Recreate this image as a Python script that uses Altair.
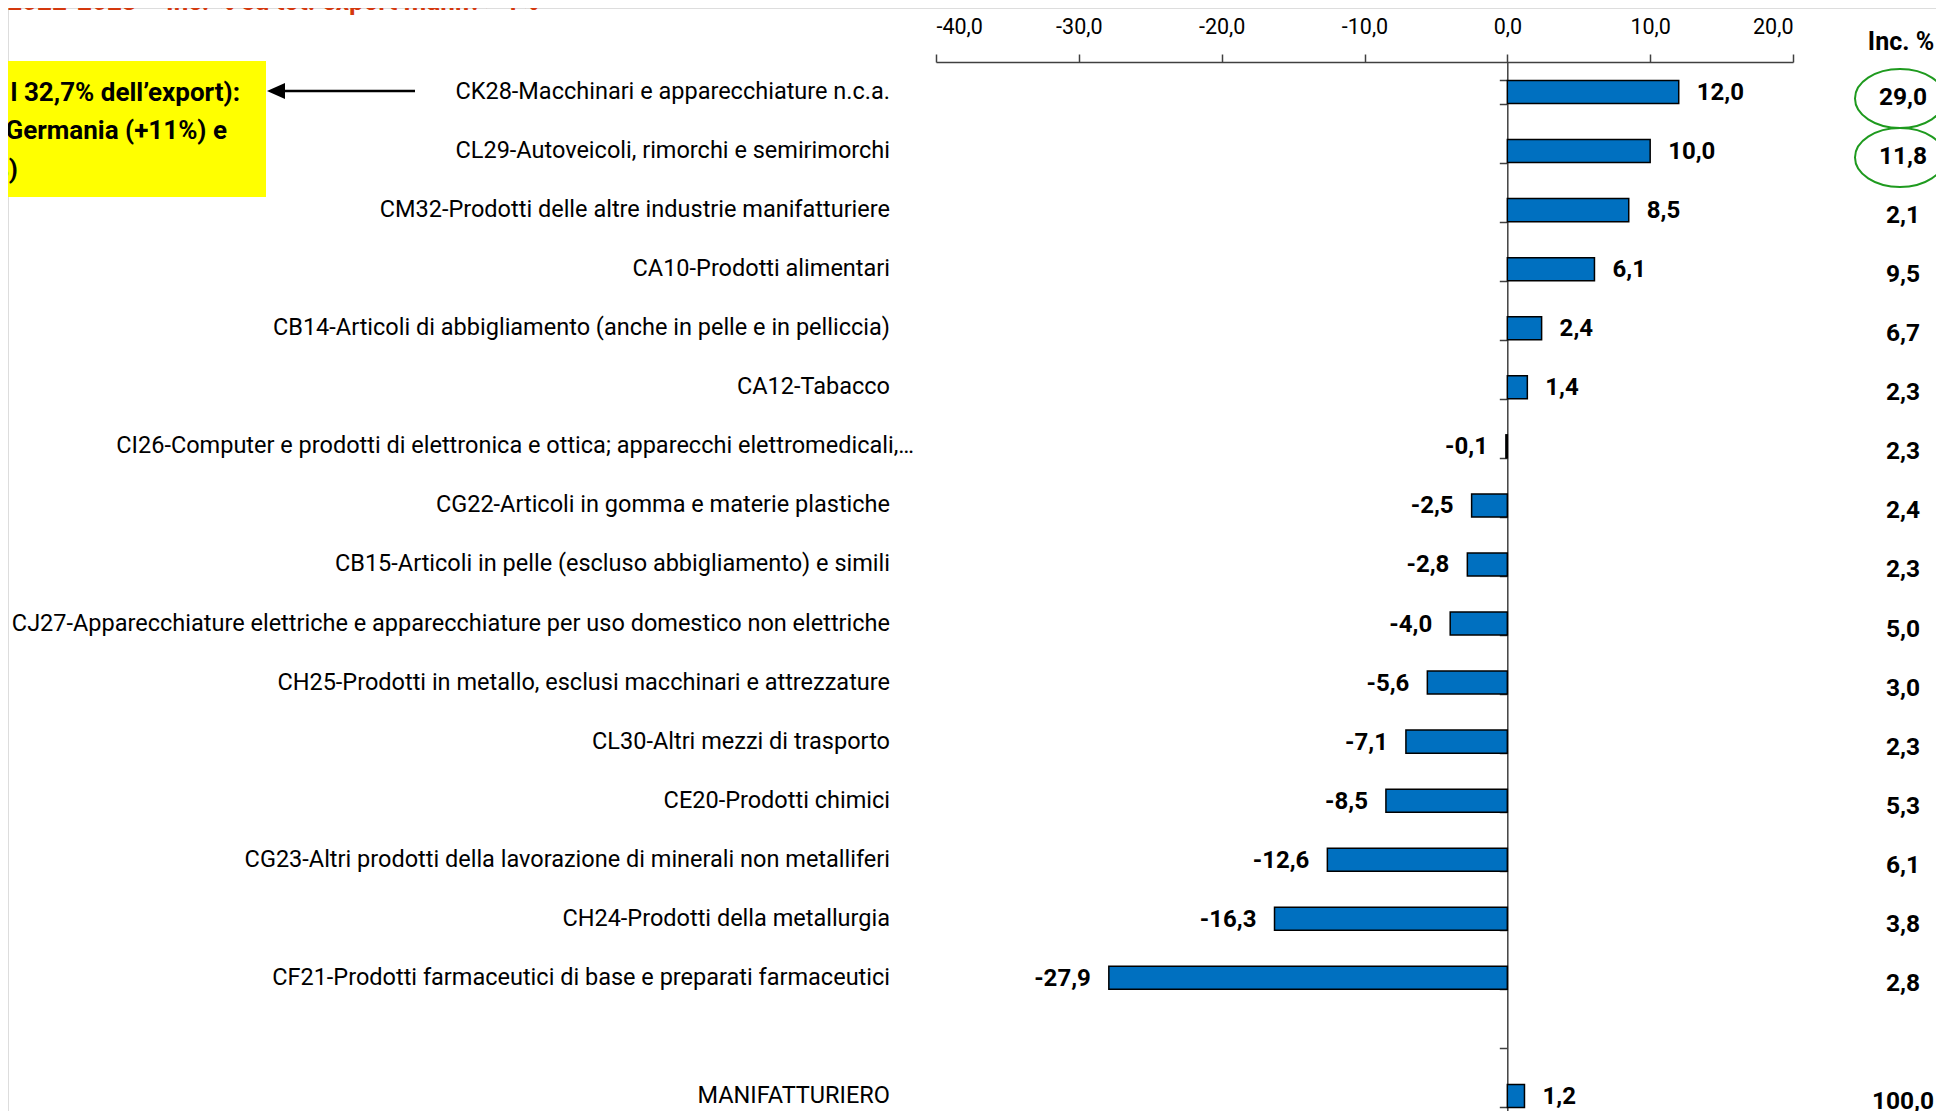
import altair as alt
import pandas as pd

# ---------------- data ----------------
categories = [
    "CK28-Macchinari e apparecchiature n.c.a.",
    "CL29-Autoveicoli, rimorchi e semirimorchi",
    "CM32-Prodotti delle altre industrie manifatturiere",
    "CA10-Prodotti alimentari",
    "CB14-Articoli di abbigliamento (anche in pelle e in pelliccia)",
    "CA12-Tabacco",
    "CI26-Computer e prodotti di elettronica e ottica; apparecchi elettromedicali,…",
    "CG22-Articoli in gomma e materie plastiche",
    "CB15-Articoli in pelle (escluso abbigliamento) e simili",
    "CJ27-Apparecchiature elettriche e apparecchiature per uso domestico non elettriche",
    "CH25-Prodotti in metallo, esclusi macchinari e attrezzature",
    "CL30-Altri mezzi di trasporto",
    "CE20-Prodotti chimici",
    "CG23-Altri prodotti della lavorazione di minerali non metalliferi",
    "CH24-Prodotti della metallurgia",
    "CF21-Prodotti farmaceutici di base e preparati farmaceutici",
    "MANIFATTURIERO",
]
variation = [12.0, 10.0, 8.5, 6.1, 2.4, 1.4, -0.1, -2.5, -2.8, -4.0, -5.6, -7.1, -8.5, -12.6, -16.3, -27.9, 1.2]
incidence = [29.0, 11.8, 2.1, 9.5, 6.7, 2.3, 2.3, 2.4, 2.3, 5.0, 3.0, 2.3, 5.3, 6.1, 3.8, 2.8, 100.0]
x_ticks = [-40, -30, -20, -10, 0, 10, 20]
highlighted = categories[:2]
box_lines = ["l 32,7% dell’export):", "Germania (+11%) e", "%)"]
title_text = "2022-2023 – Inc. % su tot. export manif. > 1%"
inc_header = "Inc. %"


def it_fmt(v):
    return f"{v:.1f}".replace(".", ",")


df = pd.DataFrame({"cat": categories, "var": variation, "inc": incidence})
df["var_label"] = [it_fmt(v) for v in variation]
df["inc_label"] = [it_fmt(v) for v in incidence]
df_hl = df[df["cat"].isin(highlighted)]

y_domain = categories[:-1] + [" "] + categories[-1:]

FONT = "Roboto"
W, H = 1928, 1103

xscale = alt.Scale(domain=[-40, 20], range=[928, 1785], nice=False)
yscale = alt.Scale(domain=y_domain, range=[54.47, 1117.5], paddingInner=0.61, paddingOuter=0.305)
Y = alt.Y("cat:N", scale=yscale, sort=y_domain)

base = alt.Chart(df)

bars = base.mark_bar(color="#0070C0", stroke="black", strokeWidth=1.5).encode(
    x=alt.X(
        "var:Q",
        scale=xscale,
        title="",
        axis=alt.Axis(
            orient="top", offset=-54, values=x_ticks, grid=False,
            labelExpr="replace(replace(format(datum.value, '.1f'), '.', ','), '\u2212', '-')",
            labelFont=FONT, labelFontSize=21.5, labelColor="black",
            labelBaseline="alphabetic", labelPadding=21, labelAngle=0,
            tickSize=8, tickColor="#404040", tickWidth=1.5,
            domainColor="#404040", domainWidth=1.5,
        ),
    ),
    y=alt.Y(
        "cat:N",
        scale=yscale,
        sort=y_domain,
        title="",
        axis=alt.Axis(
            orient="left", offset=-1499.3, labels=False, grid=False,
            tickBand="extent", tickSize=8, tickColor="#404040", tickWidth=1.5,
            domainColor="#404040", domainWidth=1.5,
        ),
    ),
)

pos_labels = base.transform_filter("datum.var >= 0").mark_text(
    align="left", baseline="middle", dx=18, dy=1, font=FONT, fontSize=24, fontWeight="bold", color="black"
).encode(x=alt.X("var:Q", scale=xscale), y=Y, text="var_label:N")

neg_labels = base.transform_filter("datum.var < 0").mark_text(
    align="right", baseline="middle", dx=-18, dy=1, font=FONT, fontSize=24, fontWeight="bold", color="black"
).encode(x=alt.X("var:Q", scale=xscale), y=Y, text="var_label:N")

cat_labels = base.transform_filter("indexof(datum.cat, 'CI26') !== 0").mark_text(
    align="right", baseline="middle", font=FONT, fontSize=23.5, color="black"
).encode(x=alt.value(882), y=Y, text="cat:N")

cat_label_long = base.transform_filter("indexof(datum.cat, 'CI26') === 0").mark_text(
    align="right", baseline="middle", font=FONT, fontSize=23.5, color="black"
).encode(x=alt.value(906), y=Y, text="cat:N")

inc_labels = base.mark_text(
    align="center", baseline="middle", dy=6, font=FONT, fontSize=24.5, fontWeight="bold", color="black"
).encode(x=alt.value(1895), y=Y, text="inc_label:N")

ELLIPSE = "M -1 0 A 1 0.655 0 1 1 1 0 A 1 0.655 0 1 1 -1 0 Z"
ellipses = alt.Chart(df_hl).mark_point(
    shape=ELLIPSE, size=8100, filled=False, stroke="#1E9A1E", strokeWidth=2, opacity=1
).encode(x=alt.value(1892), y=alt.Y("cat:N", scale=yscale, sort=y_domain, bandPosition=0.78))

one = pd.DataFrame({"k": [0]})

header = alt.Chart(one).mark_text(
    text=inc_header, align="center", baseline="alphabetic", font=FONT, fontSize=25, fontWeight="bold", color="black"
).encode(x=alt.value(1893), y=alt.value(42))

title = alt.Chart(one).mark_text(
    text=title_text, align="right", baseline="alphabetic", font=FONT, fontSize=26, fontWeight="bold", color="#D4380D"
).encode(x=alt.value(531), y=alt.value(2))

box = alt.Chart(one).mark_rect(color="#FFFF00").encode(
    x=alt.value(0), x2=alt.value(258), y=alt.value(53), y2=alt.value(189)
)

box_text_layers = []
for line, xr, yb in zip(box_lines, [232, 219, 10], [93, 131, 170]):
    box_text_layers.append(
        alt.Chart(one).mark_text(
            text=line, align="right", baseline="alphabetic", font=FONT, fontSize=26, fontWeight="bold", color="black"
        ).encode(x=alt.value(xr), y=alt.value(yb))
    )

arrow_line = alt.Chart(one).mark_rule(color="black", strokeWidth=2.5).encode(
    x=alt.value(268), x2=alt.value(407), y=alt.value(83)
)
arrow_head = alt.Chart(one).mark_point(
    shape="M -1 0 L 1 -0.9 L 1 0.9 Z", size=324, filled=True, color="black", opacity=1
).encode(x=alt.value(268), y=alt.value(83))

chart = alt.layer(
    box, *box_text_layers, title, arrow_line, arrow_head,
    bars, pos_labels, neg_labels, cat_labels, cat_label_long, inc_labels, ellipses, header,
).properties(
    width=W, height=H,
    autosize=alt.AutoSizeParams(type="none"),
    padding=0,
).configure_view(strokeWidth=0, stroke=None).configure(background="white")

chart.save("out.html", embed_options={"renderer": "svg", "actions": False})
